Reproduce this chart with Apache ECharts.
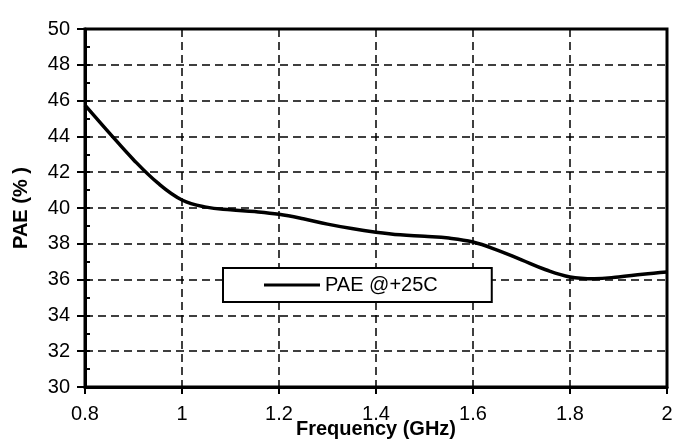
<!DOCTYPE html>
<html>
<head>
<meta charset="utf-8">
<script src="https://cdn.jsdelivr.net/npm/echarts@6/dist/echarts.min.js"></script>
<style>
  html, body { margin: 0; padding: 0; background: #fff; }
  #chart { width: 689px; height: 448px; }
</style>
</head>
<body>
<div id="chart"></div>
<script>
'use strict';

// frequency (GHz) and PAE (%)
var freqs = [0.80, 0.85, 0.90, 0.95, 1.00, 1.05, 1.10, 1.15, 1.20, 1.25, 1.30, 1.35, 1.40,
             1.45, 1.50, 1.55, 1.60, 1.65, 1.70, 1.75, 1.80, 1.85, 1.90, 1.95, 2.00];
var paeValues = [45.75, 44.2, 42.7, 41.4, 40.45, 40.05, 39.9, 39.8, 39.65, 39.4, 39.1, 38.85, 38.65,
                 38.5, 38.42, 38.32, 38.1, 37.65, 37.1, 36.55, 36.15, 36.05, 36.15, 36.3, 36.42];
var seriesName = 'PAE @+25C';

var font = 'Liberation Sans, Arial, sans-serif';

var points = [];
for (var i = 0; i < freqs.length; i++) {
    points.push([freqs[i], paeValues[i]]);
}

var myChart = echarts.init(document.getElementById('chart'));

var option = {
    animation: false,
    backgroundColor: '#fff',
    grid: {
        left: 85, right: 22, top: 29, bottom: 61,
        outerBoundsMode: 'none',
        show: true, borderColor: '#000', borderWidth: 3
    },
    legend: {
        data: [{ name: seriesName, icon: 'rect' }],
        left: 223, top: 268,
        itemWidth: 56, itemHeight: 3,
        padding: [7, 54, 7, 41],
        borderColor: '#000', borderWidth: 2, backgroundColor: '#fff',
        textStyle: { fontFamily: font, fontSize: 20, color: '#000' }
    },
    xAxis: {
        type: 'value',
        min: 0.8, max: 2, interval: 0.2,
        name: 'Frequency (GHz)',
        nameLocation: 'middle',
        nameGap: 32,
        nameMoveOverlap: false,
        nameTextStyle: { fontFamily: font, fontSize: 20, fontWeight: 'bold', color: '#000' },
        axisLine: { lineStyle: { color: '#000', width: 3 } },
        axisTick: { show: true, length: 7, lineStyle: { color: '#000', width: 2 } },
        axisLabel: {
            fontFamily: font, fontSize: 20, color: '#000', margin: 17,
            formatter: function (v) { return String(+v.toFixed(1)); }
        },
        splitLine: { show: true, lineStyle: { color: '#000', width: 1.5, type: [8, 5] } }
    },
    yAxis: [{
        type: 'value',
        min: 30, max: 50, interval: 2,
        name: 'PAE (% )',
        nameLocation: 'middle',
        nameGap: 54,
        nameMoveOverlap: false,
        nameTextStyle: { fontFamily: font, fontSize: 20, fontWeight: 'bold', color: '#000' },
        axisLine: { show: true, lineStyle: { color: '#000', width: 3 } },
        axisTick: { show: true, length: 8, lineStyle: { color: '#000', width: 2 } },
        axisLabel: { fontFamily: font, fontSize: 20, color: '#000', margin: 15 },
        splitLine: { show: true, lineStyle: { color: '#000', width: 1.5, type: [8, 5] } }
    }, {
        // inside minor ticks
        type: 'value',
        position: 'left',
        min: 30, max: 50, interval: 1,
        axisLine: { show: false },
        axisTick: { show: true, inside: true, length: 5, lineStyle: { color: '#000', width: 2 } },
        axisLabel: { show: false },
        splitLine: { show: false }
    }],
    series: [{
        name: seriesName,
        type: 'line',
        data: points,
        smooth: 0.4,
        symbol: 'none',
        lineStyle: { color: '#000', width: 3.5 },
        itemStyle: { color: '#000' }
    }]
};

myChart.setOption(option);
</script>
</body>
</html>
